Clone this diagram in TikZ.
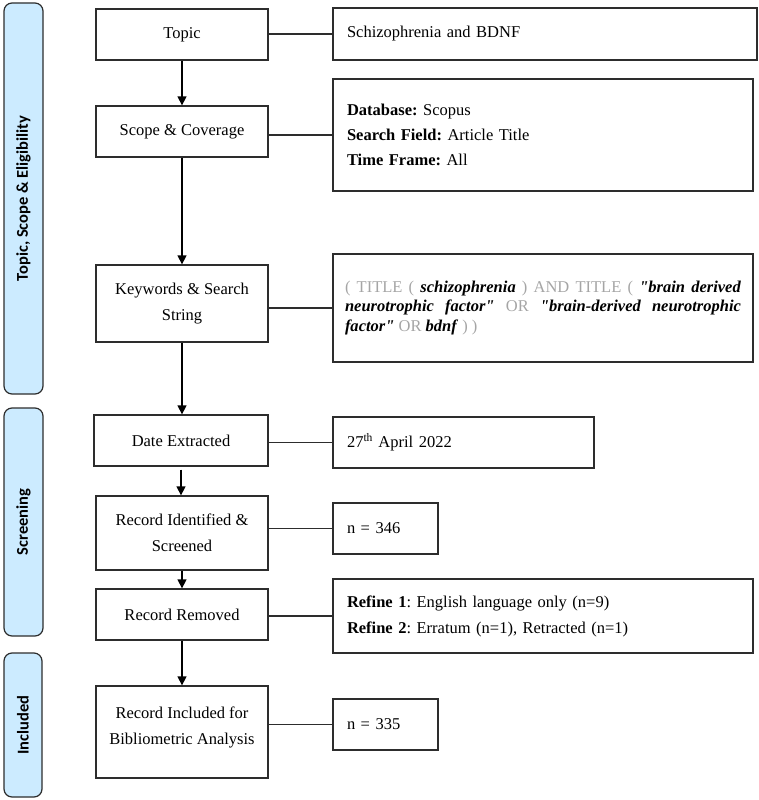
\documentclass[tikz,border=0pt]{standalone}
\usepackage{fontspec}
\setmainfont{Liberation Serif}
\newfontfamily\qfont{Liberation Serif}
\newfontfamily\barfont{Carlito}
\usetikzlibrary{arrows.meta}
\definecolor{barblue}{RGB}{204,235,255}
\definecolor{edge}{RGB}{45,45,45}
\definecolor{qgray}{RGB}{165,165,165}
\tikzset{
  lbox/.style={draw=edge, line width=1.3pt, align=center, inner sep=2pt,
    font=\frenchspacing\fontsize{16.5}{26}\selectfont},
  rbox/.style={draw=edge, line width=1.3pt, align=left, inner xsep=14pt, inner ysep=2pt,
    font=\frenchspacing\fontsize{16.5}{25}\selectfont},
  phase/.style={draw=edge, line width=1.2pt, fill=barblue, rounded corners=8pt},
  phasetext/.style={rotate=90, font=\barfont\bfseries\fontsize{16.5}{18}\selectfont},
  flow/.style={line width=1.3pt, -{Triangle[width=9pt,length=9pt]}},
  link/.style={line width=1.4pt, draw=edge}
}
\newcommand{\qg}[1]{\textcolor{qgray}{#1}}
\newcommand{\qt}[1]{\textbf{\textit{#1}}}
\newcommand{\dq}{{\qfont"}}
\begin{document}
\begin{tikzpicture}[x=1pt,y=-1pt]
\useasboundingbox (0,0) rectangle (758,800);
% phase bars
\node[phase, minimum width=39, minimum height=391] (p1) at (23.5,198.5) {};
\node[phasetext] (p1t) at (p1.center) {Topic, Scope \& Eligibility};
\node[phase, minimum width=39, minimum height=228] (p2) at (23.5,522) {};
\node[phasetext] (p2t) at (p2.center) {Screening};
\node[phase, minimum width=38, minimum height=144] (p3) at (23,725) {};
\node[phasetext] (p3t) at (p3.center) {Included};
% left flow boxes
\node[lbox, minimum width=172, minimum height=51] (topic) at (182,34.5) {Topic};
\node[lbox, minimum width=172, minimum height=51] (scope) at (182,131.5) {Scope \& Coverage};
\node[lbox, minimum width=172, minimum height=77] (kw) at (182,303.5) {Keywords \& Search\\String};
\node[lbox, minimum width=174, minimum height=51] (date) at (181,440.5) {Date Extracted};
\node[lbox, minimum width=172, minimum height=74] (recid) at (182,533) {Record Identified \&\\Screened};
\node[lbox, minimum width=172, minimum height=51] (recrem) at (182,614.5) {Record Removed};
\node[lbox, minimum width=172, minimum height=92] (recinc) at (182,732) {Record Included for\\Bibliometric Analysis\\[-14pt]};
% right boxes
\node[rbox, text width=396, minimum height=52] (rtopic) at (545,34) {Schizophrenia and BDNF};
\node[rbox, text width=392, minimum height=112] (rscope) at (543,135)
  {\textbf{Database:} Scopus\\\textbf{Search Field:} Article Title\\\textbf{Time Frame:} All\\[8pt]};
\node[rbox, inner xsep=12pt, text width=396, minimum height=108, align=justify,
  font=\frenchspacing\fontsize{16.5}{19.5}\selectfont] (rkw) at (543,308)
  {\qg{( TITLE (} \qt{schizophrenia} \qg{)} \qg{AND} \qg{TITLE (} \qt{\dq brain derived}\linebreak
   \qt{neurotrophic factor\dq} \qg{OR} \qt{\dq brain-derived neurotrophic}\linebreak
   \qt{factor\dq} \qg{OR} \qt{bdnf} \qg{) )}\par\vspace{11pt}};
\node[rbox, text width=233, minimum height=51] (rdate) at (463.5,442.5) {27\textsuperscript{th} April 2022};
\node[rbox, text width=77, minimum height=51] (rn1) at (385.5,528.5) {n = 346};
\node[rbox, text width=392, minimum height=74, font=\frenchspacing\fontsize{16.5}{26}\selectfont] (rref) at (543,616)
  {\textbf{Refine 1}: English language only (n=9)\\\textbf{Refine 2}: Erratum (n=1), Retracted (n=1)};
\node[rbox, text width=77, minimum height=51] (rn2) at (385.5,724.5) {n = 335};
% flow arrows
\draw[flow] (topic.south) -- (scope.north);
\draw[flow] (scope.south) -- (kw.north);
\draw[flow] (kw.south) -- (kw.south |- date.north);
\draw[flow] ([yshift=-3pt]date.south) -- (date.south |- recid.north);
\draw[flow] (recid.south) -- (recrem.north);
\draw[flow] (recrem.south) -- (recinc.north);
% links
\draw[link] (rtopic.west) -- (rtopic.west -| topic.east);
\draw[link] (rscope.west) -- (rscope.west -| scope.east);
\draw[link] (rkw.west) -- (rkw.west -| kw.east);
\draw[link] (rdate.west) -- (rdate.west -| date.east);
\draw[link] (rn1.west) -- (rn1.west -| recid.east);
\draw[link] (rref.west) -- (rref.west -| recrem.east);
\draw[link] (rn2.west) -- (rn2.west -| recinc.east);
\end{tikzpicture}
\end{document}
